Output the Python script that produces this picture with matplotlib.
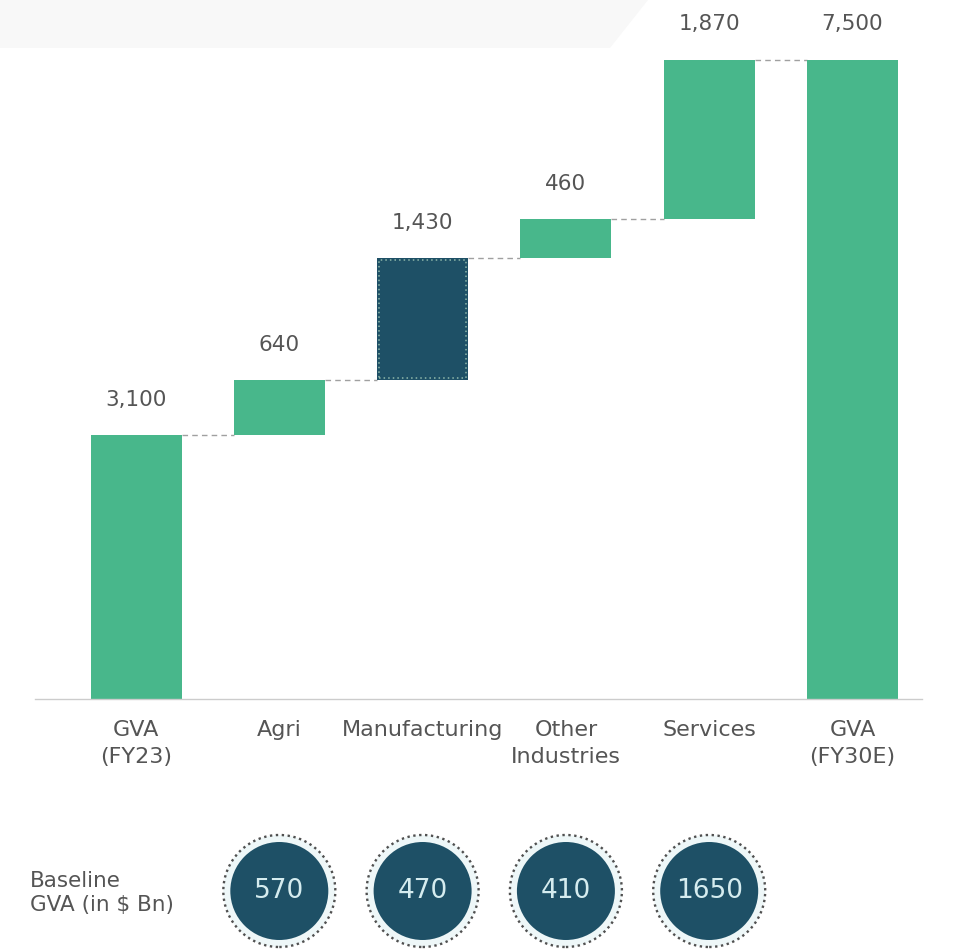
"""Waterfall of GVA growth by sector, FY23 to FY30E, with baseline GVA badges."""

import matplotlib

matplotlib.use("Agg")

import matplotlib.pyplot as plt
from matplotlib.patches import Circle, Polygon
import numpy as np


CATEGORIES = ["GVA\n(FY23)", "Agri", "Manufacturing", "Other\nIndustries", "Services", "GVA\n(FY30E)"]
VALUES = [3100, 640, 1430, 460, 1870, 7500]
IS_TOTAL = [True, False, False, False, False, True]
VALUE_LABELS = ["3,100", "640", "1,430", "460", "1,870", "7,500"]

BASELINE_SECTORS = ["Agri", "Manufacturing", "Other\nIndustries", "Services"]
BASELINE_GVA = [570, 470, 410, 1650]

GREEN = "#48b78b"
TEAL = "#1e5066"
TEXT = "#555555"

plt.rcParams["font.family"] = ["DejaVu Sans"]

W, H = 977, 949
fig = plt.figure(figsize=(W / 100, H / 100), dpi=100)
fig.patch.set_facecolor("white")

# faint backdrop band along the top
bg = fig.add_axes([0, 0, 1, 1], zorder=-5)
bg.set_xlim(0, W)
bg.set_ylim(H, 0)
bg.axis("off")
bg.add_patch(Polygon([(0, 0), (648, 0), (610, 48), (0, 48)], color="#f8f8f8", lw=0))

# main waterfall axes, in pixel-derived figure fractions
x_left, x_right = 35, 922
base_px, top_px = 699, 17
xlim = (-0.705, 5.485)
ax = fig.add_axes([x_left / W, (H - base_px) / H, (x_right - x_left) / W, (base_px - top_px) / H])
ax.set_xlim(*xlim)
ax.set_ylim(0, 8000)

bar_w = 0.635
bottoms = []
running = 0
for val, total in zip(VALUES, IS_TOTAL):
    if total:
        bottoms.append(0)
        running = val
    else:
        bottoms.append(running)
        running += val
tops = [b + v for b, v in zip(bottoms, VALUES)]

x = np.arange(len(CATEGORIES))
for i, (b, v) in enumerate(zip(bottoms, VALUES)):
    if CATEGORIES[i] == "Manufacturing":
        ax.bar(x[i], v, bar_w, bottom=b, color=TEAL, zorder=2)
        ax.bar(x[i], v - 50, bar_w - 0.025, bottom=b + 25, facecolor="none",
               edgecolor="#8fb8aa", linestyle=(0, (1, 2)), linewidth=1.1, zorder=3)
    else:
        ax.bar(x[i], v, bar_w, bottom=b, color=GREEN, zorder=2)
    ax.annotate(VALUE_LABELS[i], (x[i], tops[i]), xytext=(0, 21), textcoords="offset points",
                ha="center", va="baseline", fontsize=15.5, color=TEXT)

# dashed connectors between consecutive bars
for i in range(len(VALUES) - 1):
    ax.plot([x[i] + bar_w / 2, x[i + 1] - bar_w / 2], [tops[i], tops[i]],
            color="#a0a0a0", linestyle=(0, (4, 3)), linewidth=1, zorder=1)

ax.set_xticks(x, CATEGORIES)
ax.tick_params(axis="x", length=0, pad=15, labelsize=16, labelcolor=TEXT)
for lbl in ax.get_xticklabels():
    lbl.set_linespacing(1.45)
ax.set_yticks([])
for side in ["left", "right", "top"]:
    ax.spines[side].set_visible(False)
ax.spines["bottom"].set_color("#cccccc")
ax.spines["bottom"].set_linewidth(1)
ax.patch.set_alpha(0)

# baseline badges row, same x scale with equal aspect
ppu = (x_right - x_left) / (xlim[1] - xlim[0])
row_top, row_bot, row_cy = 820, 949, 891
cax = fig.add_axes([x_left / W, (H - row_bot) / H, (x_right - x_left) / W, (row_bot - row_top) / H])
cax.set_xlim(*xlim)
cax.set_ylim(-(row_bot - row_cy) / ppu, (row_cy - row_top) / ppu)
cax.axis("off")

for sector, val in zip(BASELINE_SECTORS, BASELINE_GVA):
    cx = CATEGORIES.index(sector)
    cax.add_patch(Circle((cx, 0), 56 / ppu, facecolor="#eef7f8", edgecolor="#505050",
                         linestyle=(0, (1, 1.5)), linewidth=1.7))
    cax.add_patch(Circle((cx, 0), 49 / ppu, facecolor=TEAL, edgecolor="none"))
    cax.text(cx, 0, str(val), ha="center", va="center", fontsize=19, color="#d5ecef")

fig.text(30 / W, 1 - 893 / H, "Baseline\nGVA (in \\$ Bn)", ha="left", va="center",
         fontsize=15.5, color=TEXT, linespacing=1.2)

fig.savefig("out.png", dpi=100, facecolor="white")
